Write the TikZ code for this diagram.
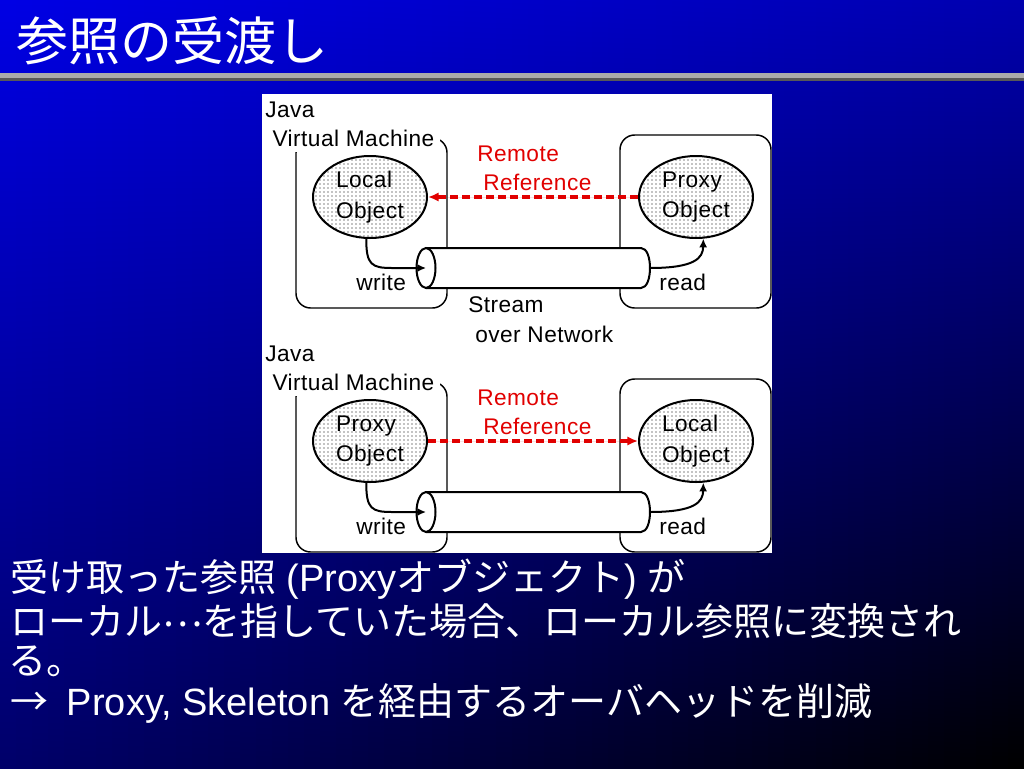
\documentclass[tikz,border=0pt]{standalone}
\usepackage{fontspec}
\setmainfont{Liberation Sans}
\newfontfamily\dia{Liberation Sans}[LetterSpace=2]
\newfontfamily\jp{Noto Sans CJK JP}
\usetikzlibrary{shapes.geometric,arrows.meta,patterns}
\definecolor{refred}{RGB}{225,0,0}
\definecolor{bgTL}{RGB}{0,0,228}
\definecolor{bgTR}{RGB}{0,0,175}
\definecolor{bgBL}{RGB}{0,0,105}
\definecolor{bgBR}{RGB}{0,0,0}
\definecolor{barlight}{RGB}{170,170,170}
\definecolor{bardark}{RGB}{88,88,88}
\begin{document}
\begin{tikzpicture}[x=0.75pt,y=-0.75pt,
  lbl/.style={font=\dia\fontsize{17}{23}\selectfont, inner sep=0pt, anchor=base west},
  redlbl/.style={lbl, text=refred},
  vmlbl/.style={lbl, fill=white, inner sep=4pt},
  obj/.style={ellipse, draw, line width=1.5pt, pattern=dots, minimum width=85.5pt,
    minimum height=61.5pt, inner sep=0pt, align=left, font=\dia\fontsize{17}{23}\selectfont},
  vmbox/.style={draw, line width=1.1pt, rounded corners=11pt},
  tube/.style={draw, line width=1.5pt, fill=white},
  tubeend/.style={ellipse, draw, line width=1.5pt, fill=white, minimum width=14.25pt,
    minimum height=30pt, inner sep=0pt},
  conn/.style={line width=1.5pt, -{Latex[length=6.5pt,width=6pt]}},
  remref/.style={draw=refred, line width=2.4pt, dash pattern=on 6pt off 3pt,
    -{Latex[length=8pt,width=7pt]}, fill=refred},
  body/.style={text=white, font=\fontsize{28.5}{34}\selectfont, anchor=base west, inner sep=0pt}
]
\useasboundingbox (0,0) rectangle (1024,768);
% background: bilinear gradient built from vertical strips
\foreach \i in {0,...,63} {
  \pgfmathsetmacro\u{100*\i/63}
  \colorlet{stripTop}{bgTR!\u!bgTL}
  \colorlet{stripBot}{bgBR!\u!bgBL}
  \shade[top color=stripTop, bottom color=stripBot] (16*\i,0) rectangle (16*\i+17,768);
}
\fill[barlight] (0,73) rectangle (1024,77.5);
\fill[bardark] (0,77.5) rectangle (1024,81);
\node[anchor=base west, text=white, font=\jp\fontsize{39}{39}\selectfont, inner sep=0pt] (title) at (16,60) {参照の受渡し};

% panel
\fill[white] (262,94) rectangle (772,553);

% ---------- upper diagram ----------
\draw[vmbox] (296,138) rectangle (447,308);
\draw[vmbox] (620,135) rectangle (771,308);
\node[lbl] (java1) at (265,117) {Java};
\node[vmlbl] (vm1) at (267,146) {Virtual Machine};
\draw[tube] (426,248) -- (641,248) .. controls (647,248) and (650,258) .. (650,268)
   .. controls (650,278) and (647,288) .. (641,288) -- (426,288);
\node[tubeend] (cylA1) at (426,268) {};
\coordinate (cylB1) at (650,268);
\node[obj] (loc1) at (370,197) {Local\\Object};
\node[obj] (prx1) at (696,197) {Proxy\\Object};
\draw[remref] (prx1.west) -- (loc1.east);
\draw[conn] (loc1.-95) .. controls (366,265) and (372,268) .. (392,268) -- (cylA1.center);
\draw[conn] (cylB1) .. controls (695,268) and (703,258) .. (prx1.-80);
\node[redlbl] (rem1) at (477,161) {Remote};
\node[redlbl] (ref1) at (483,190) {Reference};
\node[lbl] (wr1) at (356,290) {write};
\node[lbl] (rd1) at (659,290) {read};
\node[lbl] (str1) at (468,312) {Stream};
\node[lbl] (net1) at (475,342) {over Network};

% ---------- lower diagram ----------
\draw[vmbox] (296,382) rectangle (447,552);
\draw[vmbox] (620,379) rectangle (771,552);
\node[lbl] (java2) at (265,361) {Java};
\node[vmlbl] (vm2) at (267,390) {Virtual Machine};
\draw[tube] (426,492) -- (641,492) .. controls (647,492) and (650,502) .. (650,512)
   .. controls (650,522) and (647,532) .. (641,532) -- (426,532);
\node[tubeend] (cylA2) at (426,512) {};
\coordinate (cylB2) at (650,512);
\node[obj] (prx2) at (370,441) {Proxy\\Object};
\node[obj] (loc2) at (696,441) {Local\\Object};
\draw[remref] (prx2.east) -- (loc2.west);
\draw[conn] (prx2.-95) .. controls (366,509) and (372,512) .. (392,512) -- (cylA2.center);
\draw[conn] (cylB2) .. controls (695,512) and (703,502) .. (loc2.-80);
\node[redlbl] (rem2) at (477,405) {Remote};
\node[redlbl] (ref2) at (483,434) {Reference};
\node[lbl] (wr2) at (356,534) {write};
\node[lbl] (rd2) at (659,534) {read};

% ---------- body text ----------
\node[body] (line1) at (10,591) {{\jp 受け取った参照} (Proxy{\jp オブジェクト}) {\jp が}};
\node[body] (line2) at (10,635) {{\jp ローカル\raisebox{0.22em}{…}を指していた場合、ローカル参照に変換され}};
\node[body] (line3) at (8,674) {{\jp る。}};
\node[body] (line4) at (10,715) {{\jp →}\hspace{14pt}Proxy, Skeleton {\jp を経由するオーバヘッドを削減}};
\end{tikzpicture}
\end{document}
